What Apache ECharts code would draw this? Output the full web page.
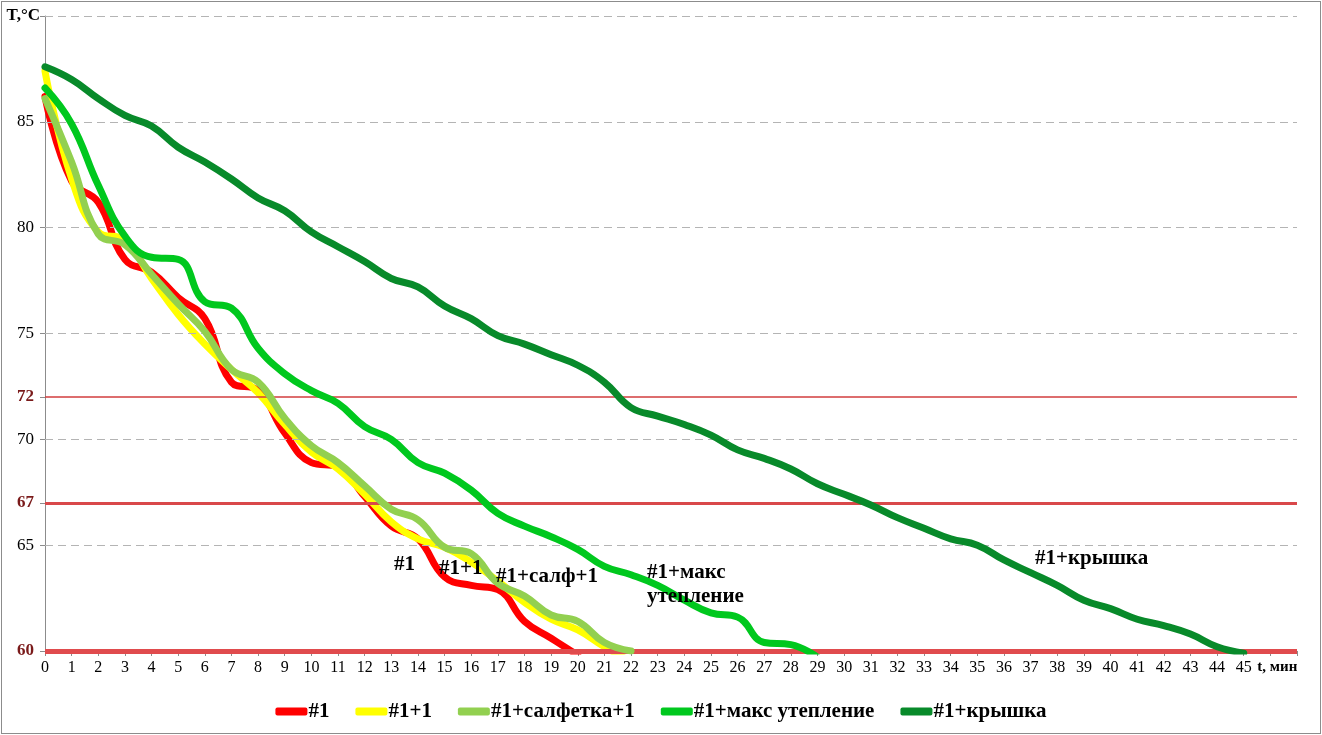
<!DOCTYPE html>
<html>
<head>
<meta charset="utf-8">
<script src="https://cdn.jsdelivr.net/npm/echarts@6/dist/echarts.min.js"></script>
<style>
  html, body { margin: 0; padding: 0; background: #fff; }
  #chart { width: 1318px; height: 731px; border: 1px solid #8c8c8c; margin: 1px 0 0 1px; }
</style>
</head>
<body>
<div id="chart"></div>
<script>
// time, minutes (last two slots: axis title and an empty tail)
var minutes = ['0','1','2','3','4','5','6','7','8','9','10','11','12','13','14','15','16','17','18','19','20',
  '21','22','23','24','25','26','27','28','29','30','31','32','33','34','35','36','37','38','39','40',
  '41','42','43','44','45','t, мин',''];

var names = ['#1', '#1+1', '#1+салфетка+1', '#1+макс утепление', '#1+крышка'];

var s1 = [86.2, 82.2, 81.2, 78.5, 77.9, 76.7, 75.7, 72.7, 72.3, 70.3, 68.9, 68.7, 67.3, 65.9, 65.3,
  63.5, 63.1, 62.9, 61.4, 60.6, 59.8];
var s2 = [87.4, 82.3, 79.8, 79.4, 77.6, 75.9, 74.5, 73.3, 72.2, 70.7, 69.4, 68.6, 67.4, 66.1, 65.3,
  64.9, 64.2, 63.3, 62.3, 61.5, 61.0, 60.2, 59.5];
var s3 = [86.1, 83.1, 79.7, 79.2, 77.8, 76.4, 75.1, 73.3, 72.7, 71.0, 69.7, 68.9, 67.8, 66.7, 66.2,
  64.9, 64.6, 63.2, 62.6, 61.7, 61.4, 60.4, 60.0];
var s4 = [86.6, 84.9, 82.0, 79.6, 78.6, 78.5, 76.5, 76.2, 74.3, 73.1, 72.3, 71.7, 70.6, 70.0, 68.9,
  68.4, 67.6, 66.5, 65.9, 65.4, 64.8, 64.0, 63.6, 63.1, 62.4, 61.8, 61.6, 60.4, 60.3, 59.7];
var s5 = [87.6, 87.0, 86.1, 85.3, 84.8, 83.8, 83.1, 82.3, 81.4, 80.8, 79.8, 79.1, 78.4, 77.6, 77.2,
  76.3, 75.7, 74.9, 74.5, 74.0, 73.5, 72.7, 71.5, 71.1, 70.7, 70.2, 69.5, 69.1, 68.6, 67.9,
  67.4, 66.9, 66.3, 65.8, 65.3, 65.0, 64.3, 63.7, 63.1, 62.4, 62.0, 61.5, 61.2, 60.8, 60.2, 59.9];

var yTicks = [60, 65, 67, 70, 72, 75, 80, 85, 90];
var gridValues = [65, 70, 75, 80, 85, 90];
var limits = [72, 67, 60];

var colors = ['#ff0000', '#ffff00', '#92d050', '#00c81e', '#088a2a'];
var serif = "'Liberation Serif', 'DejaVu Serif', serif";

var myChart = echarts.init(document.getElementById('chart'));

function lineSeries(i, data) {
  return {
    name: names[i],
    type: 'line',
    data: data,
    smooth: 0.45,
    symbol: 'none',
    clip: true,
    z: 3 + i,
    lineStyle: { width: 7, color: colors[i], cap: 'round', join: 'round' },
    itemStyle: { color: colors[i] }
  };
}

function refLine(v, color, width, type) {
  return { yAxis: v, lineStyle: { color: color, width: width, type: type, opacity: 1 } };
}

function note(x, y, txt) {
  return {
    type: 'text', left: x, top: y, z: 100,
    style: { text: txt, font: 'bold 21px ' + serif, fill: '#000', lineHeight: 24 }
  };
}

var option = {
  animation: false,
  grid: { left: 43, right: 23, top: 14, bottom: 82 },
  legend: {
    data: names,
    bottom: 6,
    left: 'center',
    icon: 'roundRect',
    itemWidth: 32,
    itemHeight: 8,
    itemGap: 26,
    textStyle: { fontFamily: serif, fontSize: 21, fontWeight: 'bold', color: '#000', padding: [0, 0, 0, -4] }
  },
  xAxis: {
    type: 'category',
    data: minutes,
    boundaryGap: false,
    axisLine: { lineStyle: { color: '#8c8c8c' } },
    axisTick: { alignWithLabel: true, length: 5, lineStyle: { color: '#8c8c8c' }, interval: 0 },
    axisLabel: {
      interval: 0,
      color: '#000',
      fontFamily: serif,
      fontSize: 16,
      margin: 9,
      formatter: function (v) {
        return v === 't, мин' ? '{b|' + v + '}' : v;
      },
      rich: { b: { fontFamily: serif, fontSize: 15, fontWeight: 'bold', color: '#000', padding: [0, 0, 0, 14] } }
    },
    splitLine: { show: false }
  },
  yAxis: {
    type: 'value',
    min: 60,
    max: 90,
    axisLine: { show: true, lineStyle: { color: '#8c8c8c' } },
    axisTick: { show: true, length: 5, customValues: yTicks, lineStyle: { color: '#8c8c8c' } },
    splitLine: { show: false },
    axisLabel: {
      customValues: yTicks,
      color: '#000',
      fontFamily: serif,
      fontSize: 17,
      margin: 11,
      formatter: function (v) {
        if (v === 90) return '{t|T,°C}';
        if (limits.indexOf(v) >= 0) return '{r|' + v + '}';
        return String(v);
      },
      rich: {
        t: { fontFamily: serif, fontSize: 17, fontWeight: 'bold', color: '#000', padding: [0, -6, 0, 0] },
        r: { fontFamily: serif, fontSize: 17, fontWeight: 'bold', color: '#7a1a1a' }
      }
    }
  },
  series: [
    {
      name: 'grid',
      type: 'line',
      data: [],
      z: 1,
      silent: true,
      markLine: {
        silent: true,
        symbol: 'none',
        label: { show: false },
        emphasis: { disabled: true },
        data: gridValues.map(function (v) {
          return refLine(v, '#b4b4b4', 1, [8, 5]);
        }).concat([
          refLine(72, '#d23c3e', 1.5, 'solid'),
          refLine(67, '#d9484a', 3, 'solid'),
          refLine(60, '#e04b4d', 5, 'solid')
        ])
      }
    },
    lineSeries(0, s1),
    lineSeries(1, s2),
    lineSeries(2, s3),
    lineSeries(3, s4),
    lineSeries(4, s5)
  ],
  graphic: [
    note(392, 551, '#1'),
    note(437, 555, '#1+1'),
    note(494, 563, '#1+салф+1'),
    note(645, 559, '#1+макс\nутепление'),
    note(1033, 545, '#1+крышка')
  ]
};

myChart.setOption(option);
window.addEventListener('resize', function () { myChart.resize(); });
</script>
</body>
</html>
